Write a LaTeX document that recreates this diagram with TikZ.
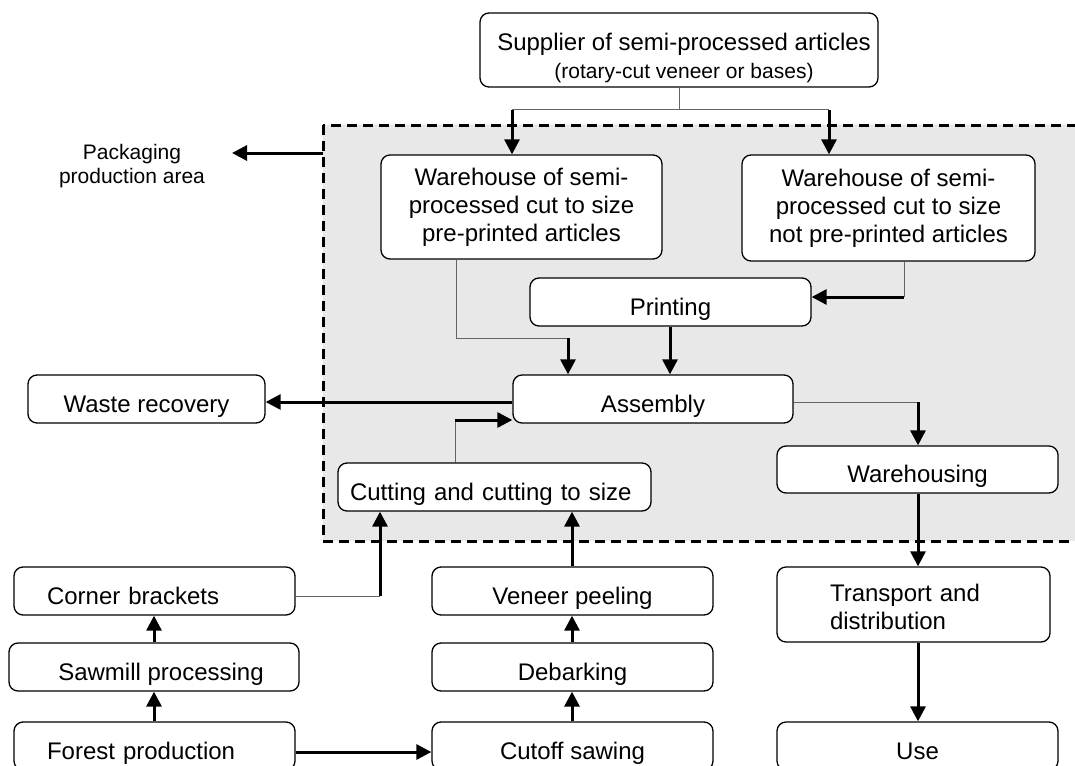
\documentclass[tikz,border=0pt]{standalone}
\usepackage{fontspec}
\setmainfont{Liberation Sans}
\usetikzlibrary{arrows.meta}
\definecolor{areagray}{RGB}{232,232,232}
\definecolor{linkgray}{RGB}{100,100,100}
\begin{document}
\begin{tikzpicture}[x=1pt,y=-1pt,
  box/.style={draw, line width=1.3pt, rounded corners=9pt, fill=white,
    inner sep=0pt, align=center, font=\fontsize{24}{28}\selectfont},
  oneline/.style={text height=29pt, text depth=3pt},
  link/.style={draw=linkgray, line width=1pt},
  flow/.style={draw=black, line width=3pt, -{Triangle[length=15pt,width=15pt]}},
  areaframe/.style={draw=black, line width=3pt, dash pattern=on 10pt off 6pt, fill=areagray}
]
\useasboundingbox (0,0) rectangle (1075,765);
\clip (0,0) rectangle (1075,765);

% packaging production area
\draw[areaframe] (323,125) rectangle (1100,541);
\coordinate (areaL) at (323,153);

% nodes
\node[box, minimum width=398pt, minimum height=74pt] (sup) at (679,50)
  {\rule{0pt}{34pt}\hspace*{10pt}Supplier of semi-processed articles\\{\fontsize{21}{24}\selectfont\hspace*{10pt}(rotary-cut veneer or bases)}};
\node[box, minimum width=281pt, minimum height=104pt] (whA) at (521.5,207)
  {Warehouse of semi-\\processed cut to size\\pre-printed articles};
\node[box, minimum width=293pt, minimum height=106pt] (whB) at (888.5,208)
  {Warehouse of semi-\\processed cut to size\\not pre-printed articles};
\node[box, oneline, minimum width=281pt, minimum height=48pt] (print) at (670.5,302) {Printing};
\node[box, oneline, minimum width=280pt, minimum height=48pt] (asm) at (653,399) {Assembly};
\node[box, oneline, minimum width=237pt, minimum height=48pt] (waste) at (146.5,399) {Waste recovery};
\node[box, oneline, align=left, inner xsep=12pt, text width=289pt, minimum height=48pt] (cut) at (494.5,487)
  {Cutting and cutting to size};
\node[box, oneline, minimum width=281pt, minimum height=47pt] (ware) at (917.5,469.5) {Warehousing};
\node[box, align=left, inner xsep=53pt, text width=167pt, minimum height=75pt] (trans) at (913.5,604.5)
  {\rule{0pt}{22pt}Transport and\\distribution};
\node[box, oneline, minimum width=281pt, minimum height=48pt] (use) at (917.5,746) {Use};
\node[box, oneline, align=left, inner xsep=33pt, text width=215pt, minimum height=48pt] (corner) at (154.5,591)
  {Corner brackets};
\node[box, oneline, minimum width=290pt, minimum height=48pt] (saw) at (154,667) {\hspace*{14pt}Sawmill processing};
\node[box, oneline, align=left, inner xsep=33pt, text width=215pt, minimum height=48pt] (forest) at (154.5,746)
  {Forest production};
\node[box, oneline, minimum width=281pt, minimum height=48pt] (veneer) at (572.5,591) {Veneer peeling};
\node[box, oneline, minimum width=281pt, minimum height=48pt] (debark) at (572.5,667) {Debarking};
\node[box, oneline, minimum width=281pt, minimum height=48pt] (cutoff) at (572.5,746) {Cutoff sawing};

\node[align=center, inner sep=0pt, font=\fontsize{21}{24}\selectfont] (pack) at (132,166)
  {Packaging\\production area};
\coordinate (packR) at (232,153);

% junction points
\coordinate (jA) at (512,110);
\coordinate (jB) at (829,110);
\coordinate (jS) at (sup.south |- jA);
\coordinate (pB) at (904,297);
\coordinate (aA1) at (456,338);
\coordinate (aA2) at (568,338);
\coordinate (wR) at (918,402);
\coordinate (cU) at (455,420);
\coordinate (kR) at (380,596);

% connectors
\draw[link] (sup.south) -- (jS);
\draw[link] (jA) -- (jB);
\draw[flow] (jA) -- (jA |- whA.north);
\draw[flow] (jB) -- (jB |- whB.north);

\draw[link] (pB |- whB.south) -- (pB);
\draw[flow] (pB) -- (pB -| print.east);

\draw[link] (aA1 |- whA.south) -- (aA1) -- (aA2);
\draw[flow] (aA2) -- (aA2 |- asm.north);
\draw[flow] (print.south -| 670,0) -- (asm.north -| 670,0);

\draw[flow] (asm.west |- 0,402) -- (waste.east |- 0,402);
\draw[link] (asm.east |- 0,402) -- (wR);
\draw[flow] (wR) -- (wR |- ware.north);

\draw[link] (cU |- cut.north) -- (cU);
\draw[flow] (cU) -- (cU -| asm.west);

\draw[link] (corner.east |- kR) -- (kR);
\draw[flow] (kR) -- (kR |- cut.south);
\draw[flow] (veneer.north -| 572,0) -- (cut.south -| 572,0);
\draw[flow] (debark.north -| 572,0) -- (veneer.south -| 572,0);
\draw[flow] (cutoff.north -| 572,0) -- (debark.south -| 572,0);

\draw[flow] (saw.north) -- (corner.south -| saw.north);
\draw[flow] (forest.north -| saw.north) -- (saw.south);
\draw[flow] (forest.east |- 0,752) -- (cutoff.west |- 0,752);

\draw[flow] (ware.south -| 918,0) -- (trans.north -| 918,0);
\draw[flow] (trans.south -| 918,0) -- (use.north -| 918,0);

\draw[flow] (areaL) -- (packR);
\end{tikzpicture}
\end{document}
